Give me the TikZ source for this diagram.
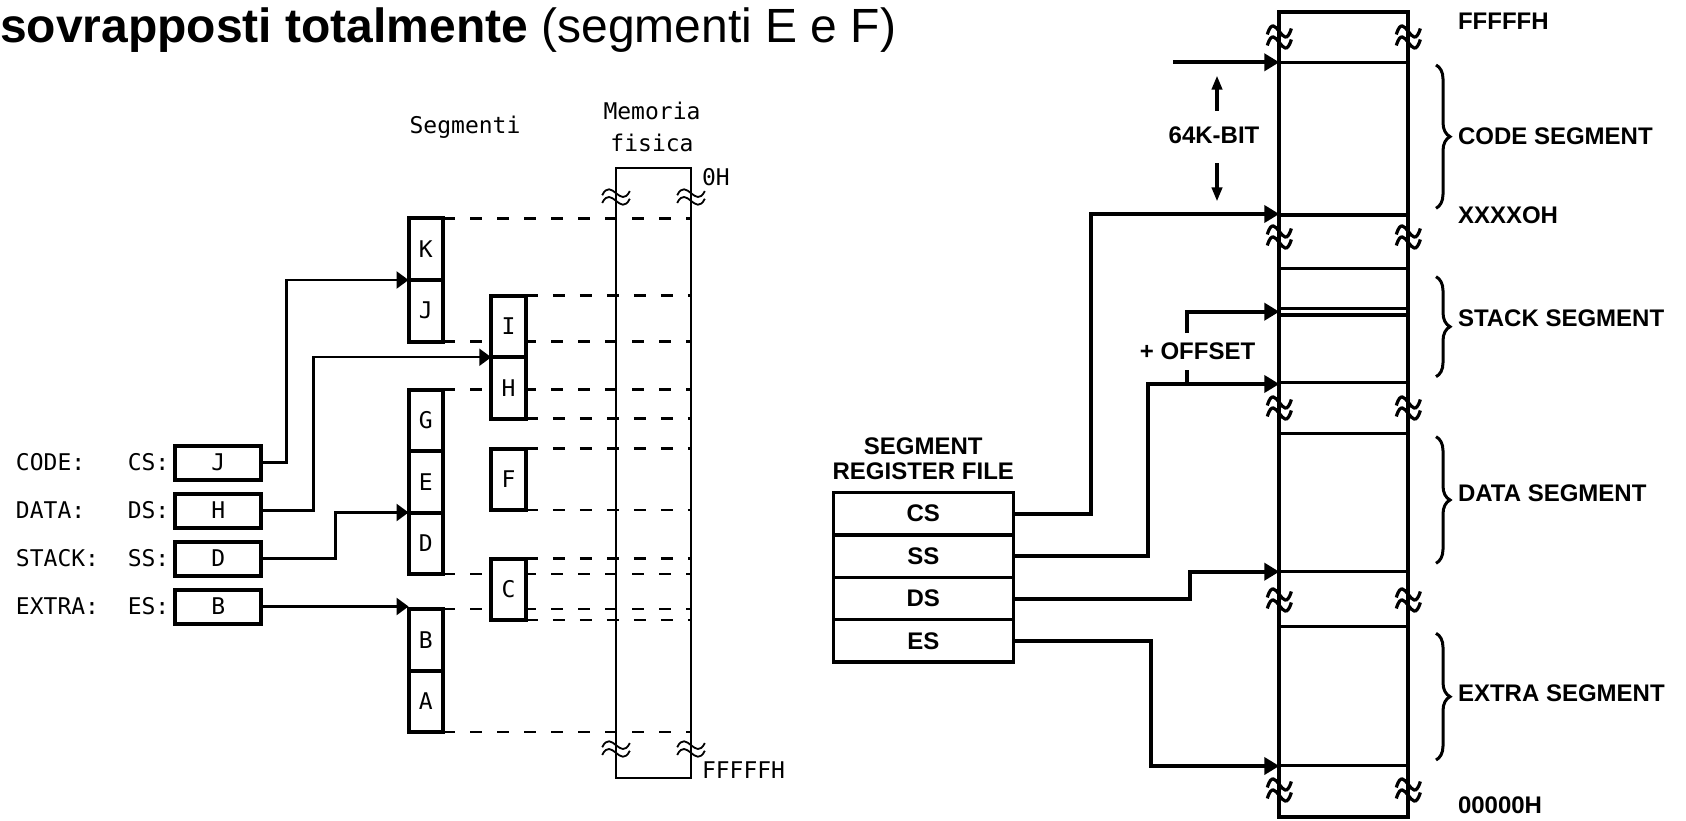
\documentclass[tikz,border=0pt]{standalone}
\usepackage{fontspec}
\setmainfont{Liberation Sans}
\newfontfamily\pixmono{DejaVu Sans Mono}
\usetikzlibrary{arrows.meta,positioning,backgrounds,decorations.pathreplacing}

\tikzset{
  brk/.pic={
    \foreach \d in {-5.5,5.5}
      \draw (-12,\d+3) .. controls (-4,\d-24) and (4,\d+24) .. (12,\d-3);
  }
}

\begin{document}
\begin{tikzpicture}[
  x=1pt,y=-1pt,
  every node/.style={inner sep=0pt,outer sep=0pt},
  px/.style={font=\pixmono\fontsize{23}{25}\selectfont},
  hv/.style={font=\fontsize{24}{25}\selectfont\bfseries},
  seg/.style={px,draw,line width=4pt,fill=white,minimum width=34.5pt,minimum height=61.5pt},
  reg/.style={px,draw,line width=4pt,minimum width=86pt,minimum height=34pt},
  rf/.style={hv,draw,line width=3.5pt,minimum width=180pt,minimum height=42.4pt},
  thinln/.style={line width=2.4pt},
  dsh/.style={line width=2.8pt,dash pattern=on 12pt off 15pt},
  la/.style={-{Triangle[length=12pt,width=17pt]},line width=2.4pt},
  ra/.style={-{Triangle[length=15pt,width=17pt]},line width=4pt},
  ka/.style={-{Triangle[length=14pt,width=10pt]},line width=4pt},
  brc/.style={decorate,decoration={brace,amplitude=14pt},line width=3pt}
]
\useasboundingbox (0,0) rectangle (1686,821);

\node[anchor=base west,font=\fontsize{48}{52}\selectfont] (title) at (0,43)
  {\textbf{sovrapposti totalmente} (segmenti E e F)};

% segmenti e memoria fisica
\node[px] (segt) at (465,127) {Segmenti};
\node[px,font=\pixmono\fontsize{23}{32}\selectfont,align=center] (memt) at (652,127) {Memoria\\fisica};
\node[draw,thinln,minimum width=75pt,minimum height=609.7pt] (phys) at (653.5,472.85) {};
\node[px,anchor=west] (zeroh) at (702,177) {0H};
\node[px,anchor=west] (ffh) at (702,770) {FFFFFH};
\foreach \y in {197,749}
  {\pic[line width=1.8pt,xscale=1.15,yscale=0.7] at (phys.west |- 0,\y) {brk};
   \pic[line width=1.8pt,xscale=1.15,yscale=0.7] at (phys.east |- 0,\y) {brk};}

\node[seg] (K) at (425.8,249.25) {K};
\node[seg,below=0pt of K] (J) {J};
\node[seg] (G) at (425.8,420.25) {G};
\node[seg,below=0pt of G] (E) {E};
\node[seg,below=0pt of E] (D) {D};
\node[seg] (B) at (425.8,639.75) {B};
\node[seg,below=0pt of B] (A) {A};
\node[seg] (I) at (508.5,326.5) {I};
\node[seg,below=0pt of I] (H) {H};
\node[seg] (F) at (508.5,479.25) {F};
\node[seg] (C) at (508.5,589.25) {C};

\begin{scope}[on background layer]
  \foreach \p in {K.north east,J.south east,G.north east,D.south east,B.north east,A.south east,
                  I.north east,H.south east,F.north east,F.south east,C.north east,C.south east}
    \draw[dsh] (\p) -- (\p -| phys.east);
\end{scope}

% registri di segmento
\node[reg] (lcs) at (218.3,462.5) {J};
\node[reg,below=14pt of lcs] (lds) {H};
\node[reg,below=14pt of lds] (lss) {D};
\node[reg,below=14pt of lss] (les) {B};
\foreach \r/\t/\l in {lcs/CODE/CS,lds/DATA/DS,lss/STACK/SS,les/EXTRA/ES}
  {\node[px,left=6pt of \r] (\r-lab) {\l:};
   \node[px,anchor=west] (\r-tag) at (16,0 |- \r) {\t:};}

\draw[la] (lcs.east) -- ++(25,0) |- (K.south west);
\draw[la] (lds.east) -- ++(52,0) |- (I.south west);
\draw[la] (lss.east) -- ++(74,0) |- (E.south west);
\draw[la] (les.east) -- (les.east -| B.west);

% memoria a destra
\node[draw,line width=4pt,minimum width=129pt,minimum height=805pt] (mem) at (1343.8,414.2) {};
\foreach \y in {62.3,215,268.3,308.3,315,382.7,433.3,571.7,626.7,765.7}
  \draw[line width=3.5pt] (mem.west |- 0,\y) -- (mem.east |- 0,\y);
\foreach \y in {37,237,408,600,790}
  {\pic[line width=3.2pt] at (mem.west |- 0,\y) {brk};
   \pic[line width=3.2pt] at (mem.east |- 0,\y) {brk};}

\foreach \y/\t [count=\i] in {21.7/FFFFFH,136.7/CODE SEGMENT,215/XXXXOH,318.3/STACK SEGMENT,
                              493.3/DATA SEGMENT,693.3/EXTRA SEGMENT,805/00000H}
  \node[hv,anchor=west] (rl\i) at (1458,\y) {\t};
\foreach \a/\b in {65/208.3,276.7/376.7,436.7/563.3,633.3/760}
  \draw[brc] (1436,\a) -- (1436,\b);

\node[rf] (rcs) at (923.3,513.7) {CS};
\node[rf,below=0pt of rcs] (rss) {SS};
\node[rf,below=0pt of rss] (rds) {DS};
\node[rf,below=0pt of rds] (res) {ES};
\node[hv,align=center,above=13pt of rcs] (rft) {SEGMENT\\REGISTER FILE};

\coordinate (topin) at (1173,62.3);
\draw[ra] (topin) -- (mem.west |- topin);
\node[hv] (kbit) at (1214,135) {64K-BIT};
\draw[ka] (kbit.north) ++(3,-16) -- ++(0,-35);
\draw[ka] (kbit.south) ++(3,20) -- ++(0,38);

\draw[ra] (rcs.east) -- ++(78,0) |- (mem.west |- 0,214);
\draw[ra] (rss.east) -- ++(135,0) |- (mem.west |- 0,384);
\coordinate (ofs) at (1187,384);
\node[hv,inner ysep=10pt] (offl) at (1197.5,351.7) {+ OFFSET};
\draw[line width=4pt] (ofs) -- (ofs |- offl.south);
\draw[ra] (ofs |- offl.north) |- (mem.west |- 0,311.7);
\draw[ra] (rds.east) -- ++(177,0) |- (mem.west |- 0,571.7);
\draw[ra] (res.east) -- ++(138,0) |- (mem.west |- 0,766);
\end{tikzpicture}
\end{document}
